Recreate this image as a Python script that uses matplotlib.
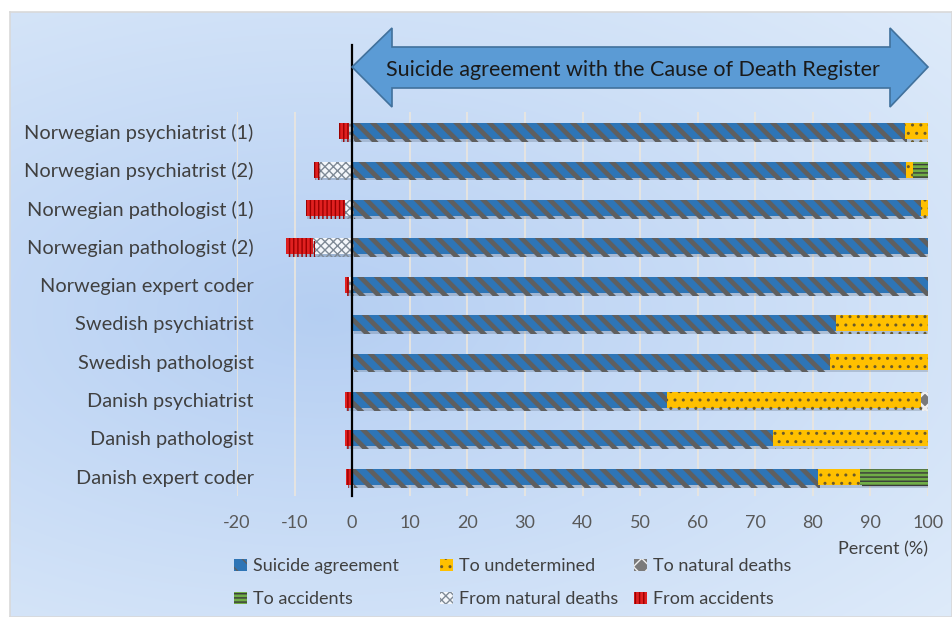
import numpy as np
import matplotlib
matplotlib.use('Agg')
import matplotlib.pyplot as plt
import matplotlib.patheffects as pe
from matplotlib.patches import Polygon

plt.rcParams['font.family'] = ['Lato', 'DejaVu Sans']
plt.rcParams['axes.unicode_minus'] = False

# data, top row first
labels = ['Norwegian psychiatrist (1)', 'Norwegian psychiatrist (2)', 'Norwegian pathologist (1)',
          'Norwegian pathologist (2)', 'Norwegian expert coder', 'Swedish psychiatrist',
          'Swedish pathologist', 'Danish psychiatrist', 'Danish pathologist', 'Danish expert coder']
agreement = [96.0, 96.1, 98.8, 100.0, 100.0, 84.0, 83.0, 54.6, 73.1, 80.9]
undetermined = [4.0, 1.3, 1.2, 0.0, 0.0, 16.0, 17.0, 44.1, 26.9, 7.3]
to_natural = [0, 0, 0, 0, 0, 0, 0, 1.3, 0, 0]
to_accidents = [0, 2.6, 0, 0, 0, 0, 0, 0, 0, 11.8]
from_natural = [0.5, 5.7, 1.3, 6.8, 0.6, 0, 0, 0, 0, 0]
from_accidents = [1.8, 1.0, 6.8, 4.7, 0.6, 0, 0, 1.3, 1.3, 1.0]

W, H = 952, 617
fig = plt.figure(figsize=(W / 100, H / 100), dpi=100)

# gradient background with a thin frame
bg = fig.add_axes([10 / W, 0, (W - 10) / W, (H - 12) / H], zorder=-5)
yy, xx = np.mgrid[0:1:300j, 0:1:500j]
r = np.sqrt(((xx - 0.33) / 0.9) ** 2 + ((yy - 0.5) / 0.75) ** 2)
r = np.clip(r, 0, 1)
inner = np.array([0.71, 0.81, 0.95])
outer = np.array([0.87, 0.92, 0.98])
img = inner[None, None, :] * (1 - r[..., None]) + outer[None, None, :] * r[..., None]
bg.imshow(img, aspect='auto', extent=[0, 1, 0, 1])
bg.set_xticks([])
bg.set_yticks([])
for s in bg.spines.values():
    s.set_color('#d9d9d9')
    s.set_linewidth(1.2)

ax = fig.add_axes([237 / W, 1 - 496 / H, (928 - 237) / W, (496 - 112) / H])
ax.set_facecolor('none')

y = np.arange(len(labels))[::-1]
h = 0.42
shadow = [pe.SimplePatchShadow(offset=(1.2, -2.0), shadow_rgbFace='#3a4a60', alpha=0.22), pe.Normal()]


def segs(left, width, face, hatch, hcolor, hlw, label):
    plt.rcParams['hatch.linewidth'] = hlw
    bars = ax.barh(y, width, left=left, height=h, color=face, edgecolor=hcolor,
                   linewidth=0, hatch=hatch, label=label, zorder=3)
    for b in bars:
        b.set_path_effects(shadow)
        if hasattr(b, 'set_hatch_linewidth'):
            b.set_hatch_linewidth(hlw)
    return bars


agr = np.array(agreement)
und = np.array(undetermined)
tn = np.array(to_natural)
ta = np.array(to_accidents)
fn = np.array(from_natural)
fa = np.array(from_accidents)

b1 = segs(0, agr, '#2e75b6', '\\\\', '#5f5f5f', 3.4, 'Suicide agreement')
b2 = segs(agr, und, '#ffc000', '..', '#6b5a2a', 1.0, 'To undetermined')
b3 = segs(agr + und, tn, '#7a7a7a', 'xx', '#f0f0f0', 2.0, 'To natural deaths')
b4 = segs(agr + und + tn, ta, '#70ad47', '----', '#3a3a3a', 1.0, 'To accidents')
b5 = segs(-fn, fn, '#f4f7fb', 'xxxx', '#7f8a96', 1.0, 'From natural deaths')
b6 = segs(-fn - fa, fa, '#e02020', '||||', '#9a0000', 1.0, 'From accidents')

ax.set_xlim(-20, 100)
ax.set_ylim(-0.5, len(labels) - 0.5)
ax.set_xticks(range(-20, 101, 10))
ax.set_yticks(y)
ax.set_yticklabels(labels)
ax.tick_params(axis='y', length=0, pad=-12, labelsize=14.4, labelcolor='#404040')
ax.tick_params(axis='x', length=0, pad=14, labelsize=13, labelcolor='#595959')
ax.grid(axis='x', color='#ebe6dd', linewidth=1.2, zorder=0)
ax.set_axisbelow(True)
for s in ax.spines.values():
    s.set_visible(False)

# zero line running up to the arrow
ax.axvline(0, ymin=0, ymax=(497 - 45) / (497 - 112), color='black', linewidth=1.6,
           clip_on=False, zorder=6)

ax.text(100, -1.9, 'Percent (%)', ha='right', va='center', fontsize=13, color='#404040')


def fx(px):
    return px / W


def fy(py):
    return 1 - py / H


pts = [(352, 67), (392, 28), (392, 47), (890, 47), (890, 28), (928, 67),
       (890, 107), (890, 88), (392, 88), (392, 107)]
arrow = Polygon([(fx(a), fy(b)) for a, b in pts], closed=True, transform=fig.transFigure,
                facecolor='#5b9bd5', edgecolor='#41719c', linewidth=1.2, zorder=10)
fig.add_artist(arrow)
fig.text(fx(633), fy(70), 'Suicide agreement with the Cause of Death Register', ha='center',
         va='center', fontsize=15.5, color='#1a1a1a', zorder=11)

# legend, three columns laid out row by row
handles = [b1, b2, b3, b4, b5, b6]
cols = [(237, [0, 3]), (443, [1, 4]), (637, [2, 5])]
for xpix, idx in cols:
    lg = fig.legend([handles[i] for i in idx], [handles[i].get_label() for i in idx],
                    loc='upper left', bbox_to_anchor=(fx(xpix - 10), fy(551)), frameon=False,
                    fontsize=13, handlelength=0.7, handleheight=0.7, handletextpad=0.35,
                    labelspacing=0.95, labelcolor='#404040', borderaxespad=0)
    for p in lg.get_patches():
        p.set_path_effects([])

fig.savefig('out.png', dpi=100)
